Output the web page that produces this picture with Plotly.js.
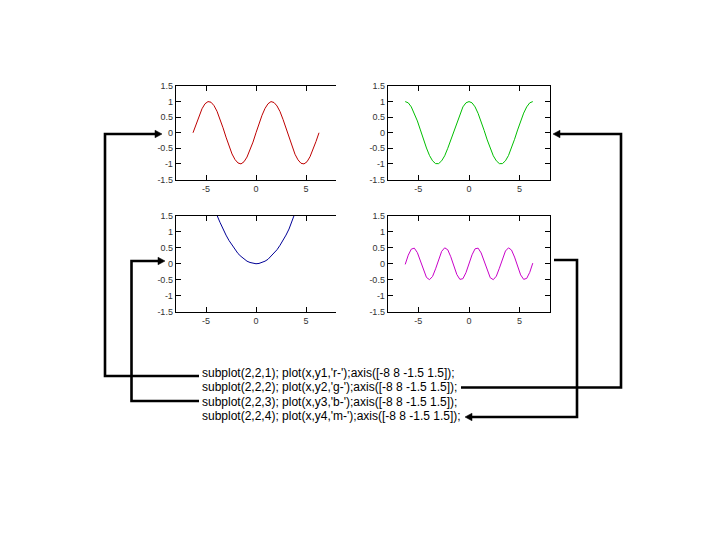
<!DOCTYPE html>
<html>
<head>
<meta charset="utf-8">
<script src="https://cdn.plot.ly/plotly-3.0.1.min.js"></script>
<style>html,body{margin:0;padding:0;background:#fff}#chart{width:720px;height:540px}</style>
</head>
<body>
<div id="chart"></div>
<script>
// ---- data ----
const x = [-6.3,-6.0,-5.7,-5.4,-5.1,-4.8,-4.5,-4.2,-3.9,-3.6,-3.3,-3.0,-2.7,-2.4,-2.1,-1.8,-1.5,-1.2,-0.9,-0.6,-0.3,
  0,0.3,0.6,0.9,1.2,1.5,1.8,2.1,2.4,2.7,3.0,3.3,3.6,3.9,4.2,4.5,4.8,5.1,5.4,5.7,6.0,6.3];
const y1 = [0.00,0.28,0.55,0.77,0.93,1.00,0.98,0.87,0.69,0.44,0.16,-0.14,-0.43,-0.68,-0.86,-0.97,-1.00,-0.93,-0.78,-0.56,-0.30,
  0.00,0.30,0.56,0.78,0.93,1.00,0.97,0.86,0.68,0.43,0.14,-0.16,-0.44,-0.69,-0.87,-0.98,-1.00,-0.93,-0.77,-0.55,-0.28,0.00];
const y2 = [1.00,0.96,0.83,0.63,0.38,0.09,-0.21,-0.49,-0.73,-0.90,-0.99,-0.99,-0.90,-0.74,-0.50,-0.23,0.07,0.36,0.62,0.83,0.96,
  1.00,0.96,0.83,0.62,0.36,0.07,-0.23,-0.50,-0.74,-0.90,-0.99,-0.99,-0.90,-0.73,-0.49,-0.21,0.09,0.38,0.63,0.83,0.96,1.00];
const y3 = [3.97,3.60,3.25,2.92,2.60,2.30,2.03,1.76,1.52,1.30,1.09,0.90,0.73,0.58,0.44,0.32,0.23,0.14,0.08,0.04,0.01,
  0.00,0.01,0.04,0.08,0.14,0.23,0.32,0.44,0.58,0.73,0.90,1.09,1.30,1.52,1.76,2.03,2.30,2.60,2.92,3.25,3.60,3.97];
const y4 = [-0.02,0.27,0.46,0.49,0.35,0.09,-0.21,-0.43,-0.50,-0.40,-0.16,0.14,0.39,0.50,0.44,0.22,-0.07,-0.34,-0.49,-0.47,-0.28,
  0.00,0.28,0.47,0.49,0.34,0.07,-0.22,-0.44,-0.50,-0.39,-0.14,0.16,0.40,0.50,0.43,0.21,-0.09,-0.35,-0.49,-0.46,-0.27,0.02];
const xTickVals = [-5, 0, 5];
const xTickText = ["-5", "0", "5"];
const yTickVals = [-1.5, -1, -0.5, 0, 0.5, 1, 1.5];
const yTickText = ["-1.5", "-1", "-0.5", "0", "0.5", "1", "1.5"];
const xRange = [-8, 8];
const yRange = [-1.5, 1.5];
const codeLines = [
  "subplot(2,2,1); plot(x,y1,'r-');axis([-8 8 -1.5 1.5]);",
  "subplot(2,2,2); plot(x,y2,'g-');axis([-8 8 -1.5 1.5]);",
  "subplot(2,2,3); plot(x,y3,'b-');axis([-8 8 -1.5 1.5]);",
  "subplot(2,2,4); plot(x,y4,'m-');axis([-8 8 -1.5 1.5]);"
];

// ---- layout helpers (pixel -> paper) ----
const W = 720, H = 540;
const PX = p => p / W;
const PY = p => 1 - p / H;
const FONT = "Liberation Sans, Arial, sans-serif";

const colL = [PX(176), PX(336)], colR = [PX(388), PX(550)];
const rowT = [PY(179.5), PY(86)], rowB = [PY(311.5), PY(216)];

function xa(domain, anchor) {
  return {domain, anchor, range: xRange, tickmode: 'array', tickvals: xTickVals, ticktext: xTickText,
    ticks: 'inside', ticklen: 5, tickwidth: 1, tickcolor: '#000', showline: true, linecolor: '#000', linewidth: 1.3,
    mirror: 'ticks', showgrid: false, zeroline: false, fixedrange: true,
    tickfont: {family: FONT, size: 9, color: '#333'}};
}
function ya(domain, anchor, mirror) {
  return {domain, anchor, range: yRange, tickmode: 'array', tickvals: yTickVals, ticktext: yTickText,
    ticks: 'inside', ticklen: 5, tickwidth: 1, tickcolor: '#000', showline: true, linecolor: '#000', linewidth: 1.3,
    mirror: mirror, showgrid: false, zeroline: false, fixedrange: true,
    tickfont: {family: FONT, size: 9, color: '#333'}};
}
function rightTicks(over, anchor) {
  return {overlaying: over, anchor, side: 'right', range: yRange, tickmode: 'array', tickvals: yTickVals,
    ticks: 'inside', ticklen: 5, tickwidth: 1, tickcolor: '#000', showticklabels: false, showline: false,
    showgrid: false, zeroline: false, fixedrange: true};
}

const traces = [
  {x, y: y1, xaxis: 'x', yaxis: 'y', mode: 'lines', line: {color: 'rgb(190,0,0)', width: 1}},
  {x, y: y2, xaxis: 'x2', yaxis: 'y2', mode: 'lines', line: {color: 'rgb(0,190,0)', width: 1}},
  {x, y: y3, xaxis: 'x3', yaxis: 'y3', mode: 'lines', line: {color: 'rgb(0,0,150)', width: 1}},
  {x, y: y4, xaxis: 'x4', yaxis: 'y4', mode: 'lines', line: {color: 'rgb(200,0,200)', width: 1}}
];

function pathOf(pts) {
  return pts.map((p, i) => (i ? 'L' : 'M') + PX(p[0]) + ',' + PY(p[1])).join(' ');
}
const lineStyle = {color: '#000', width: 2.6};
function poly(pts) {
  return {type: 'path', xref: 'paper', yref: 'paper', path: pathOf(pts), line: lineStyle};
}
function head(tipX, tipY, dir) { // dir +1 points right, -1 points left
  const L = 7, h = 3.8;
  const bx = tipX - dir * L;
  return {type: 'path', xref: 'paper', yref: 'paper',
    path: pathOf([[tipX, tipY], [bx, tipY - h], [bx, tipY + h]]) + ' Z',
    fillcolor: '#000', line: {color: '#000', width: 0.5}};
}

const lineY = [372.5, 387, 401.5, 416];
const shapes = [
  poly([[199, 376], [105, 376], [105, 134], [156, 134]]), head(162, 134, 1),
  poly([[199, 401], [131.5, 401], [131.5, 261], [159, 261]]), head(165, 261, 1),
  poly([[461, 387.5], [621, 387.5], [621, 134], [559, 134]]), head(553, 134, -1),
  poly([[554, 260], [577, 260], [577, 417], [471, 417]]), head(465, 417, -1)
];

const annotations = codeLines.map((t, i) => ({
  text: t, xref: 'paper', yref: 'paper', x: PX(200), y: PY(lineY[i]), xanchor: 'left', yanchor: 'middle',
  showarrow: false, font: {family: FONT, size: 12, color: '#000'}
}));

const layout = {
  width: W, height: H, margin: {l: 0, r: 0, t: 0, b: 0},
  paper_bgcolor: '#fff', plot_bgcolor: '#fff', showlegend: false,
  xaxis: xa(colL, 'y'), yaxis: ya(rowT, 'x', false),
  xaxis2: xa(colR, 'y2'), yaxis2: ya(rowT, 'x2', 'ticks'),
  xaxis3: xa(colL, 'y3'), yaxis3: ya(rowB, 'x3', false),
  xaxis4: xa(colR, 'y4'), yaxis4: ya(rowB, 'x4', 'ticks'),
  yaxis5: rightTicks('y', 'x'),
  yaxis6: rightTicks('y3', 'x3'),
  shapes, annotations
};

Plotly.newPlot('chart', traces, layout, {displayModeBar: false, staticPlot: true});
</script>
</body>
</html>
